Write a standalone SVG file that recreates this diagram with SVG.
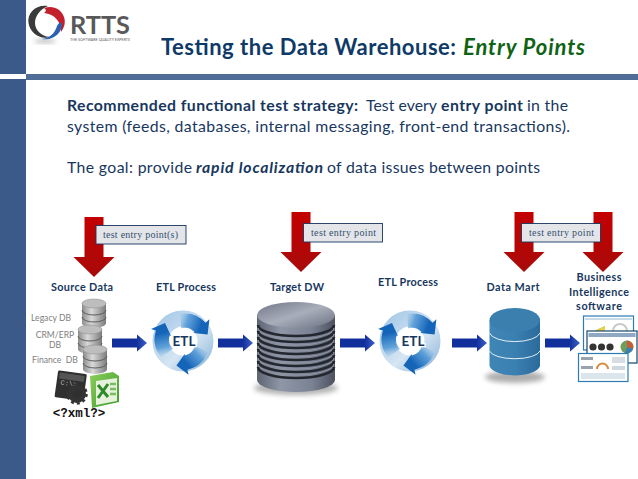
<svg xmlns="http://www.w3.org/2000/svg" width="638" height="479" viewBox="0 0 638 479">
<style>
.t{font-family:Lato,"Liberation Sans",sans-serif}
.title{font-size:22px;font-weight:700;fill:#0f3a68}
.green{fill:#0f6314}
.body{font-size:15.800px;fill:#17375e}
.b{font-weight:700}
.i{font-style:italic}
.lab{font-size:10.800px;font-weight:700;fill:#17375e;text-anchor:middle}
.src{font-size:8.600px;fill:#808080;text-anchor:middle}
.etl{font-size:13.500px;font-weight:700;fill:#17375e;text-anchor:middle;stroke:#fff;stroke-width:2.400px;paint-order:stroke}
.box{fill:#e4e5e9;stroke:#17375e;stroke-width:.9}
.boxt{font-family:"Liberation Serif",serif;font-size:10px;fill:#34506f}
.fin{fill:none;stroke:#23272f;stroke-width:2.600}
.finl{fill:none;stroke:#8d94a3;stroke-width:1.200}
.scr{fill:#fff;stroke:#2b7cb3;stroke-width:1.200}
</style>
<defs>
<linearGradient id="redg" x1="0" y1="0" x2="0" y2="1"><stop offset="0" stop-color="#c40000"/><stop offset="1" stop-color="#a80a0a"/></linearGradient>
<linearGradient id="blueg" x1="0" y1="0" x2="1" y2="0"><stop offset="0" stop-color="#12309c"/><stop offset=".7" stop-color="#12309c"/><stop offset="1" stop-color="#3d5fc8"/></linearGradient>
<linearGradient id="ringg" x1="0" y1="0" x2="1" y2="1"><stop offset="0" stop-color="#a9cbe8"/><stop offset=".6" stop-color="#d5e5f3"/><stop offset="1" stop-color="#9cc0df"/></linearGradient>
<linearGradient id="swg" gradientUnits="userSpaceOnUse" x1="-22" y1="-8" x2="-17" y2="18"><stop offset="0" stop-color="#1464b8"/><stop offset=".55" stop-color="#3f8ed2" stop-opacity=".75"/><stop offset="1" stop-color="#a9cbe8" stop-opacity="0"/></linearGradient>
<linearGradient id="steel" x1="0" y1="0" x2="1" y2="0"><stop offset="0" stop-color="#5d6472"/><stop offset=".3" stop-color="#8f96a6"/><stop offset=".7" stop-color="#7b8293"/><stop offset="1" stop-color="#4c525f"/></linearGradient>
<linearGradient id="steeltop" x1="0" y1="0" x2="1" y2="1"><stop offset="0" stop-color="#6f7686"/><stop offset=".5" stop-color="#a9aebb"/><stop offset="1" stop-color="#6a7080"/></linearGradient>
<linearGradient id="dm" x1="0" y1="0" x2="1" y2="0"><stop offset="0" stop-color="#3f85b5"/><stop offset=".5" stop-color="#3a80b0"/><stop offset="1" stop-color="#2a6b9c"/></linearGradient>
<linearGradient id="silver" x1="0" y1="0" x2="1" y2="0"><stop offset="0" stop-color="#8b8b8b"/><stop offset=".4" stop-color="#d9d9d9"/><stop offset="1" stop-color="#7b7b7b"/></linearGradient>
<linearGradient id="xl" x1="0" y1="0" x2="1" y2="1"><stop offset="0" stop-color="#8ccf5a"/><stop offset="1" stop-color="#3d9a2f"/></linearGradient>
<filter id="blur" x="-30%" y="-60%" width="160%" height="220%"><feGaussianBlur stdDeviation="2.400"/></filter>
<path id="red" d="M-9.500 0H9.500V40H20.500L0 60-20.500 40H-9.500Z" fill="url(#redg)"/>
<path id="blue" d="M0-4.600H25V-8.500L35 0 25 8.500V4.600H0Z" fill="url(#blueg)"/>
<path id="sw" d="M-18-18-32-12-27-10.500A28 28 0 0 0-22 16L-10 8A14 14 0 0 1-13.500-5.500L-12-5Z" fill="url(#swg)"/>
<g id="ring">
<circle r="22.500" fill="none" stroke="url(#ringg)" stroke-width="16"/>
<use href="#sw"/><use href="#sw" transform="rotate(120)"/><use href="#sw" transform="rotate(240)"/>
</g>
<g id="can">
<path d="M0 4V24A12 5 0 0 0 24 24V4Z" fill="url(#silver)"/>
<path d="M0 11A12 5 0 0 0 24 11M0 18A12 5 0 0 0 24 18" fill="none" stroke="#5d5d5d" stroke-width="1"/>
<ellipse cx="12" cy="4.500" rx="12" ry="4.500" fill="#bdbdbd" stroke="#8a8a8a" stroke-width=".5"/>
</g>
</defs>

<rect width="638" height="479" fill="#fff"/>

<g id="frame">
<rect x="0" y="0" width="26" height="74" fill="#3b5a8a"/>
<rect x="0" y="79" width="26" height="400" fill="#3b5a8a"/>
<rect x="26" y="74" width="612" height="6" fill="#4f6d96"/>
</g>

<g id="logo">
<ellipse cx="45" cy="41" rx="11" ry="1.800" fill="#9a9a9a" filter="url(#blur)" opacity=".8"/>
<path d="M48 6C36 4 27 13 28.500 23 30 33 40 40 50 37 41 36 35 30 35 23 35 15 41 9 48 6Z" fill="#3a3a3a"/>
<path d="M44 8C52 5 61 8 64 17 66 23 64 28 61 32 61 22 55 14 44 13 47 11 46 9 44 8Z" fill="#c2202c"/>
<path d="M62 24C62 33 53 41 42 39 50 38 55 33 57 26 59 22 61 22 62 24Z" fill="#2b5fb0"/>
<text class="t" x="70" y="34" font-size="25" font-weight="700" fill="#595959" textLength="60" lengthAdjust="spacingAndGlyphs">RTTS</text>
<text class="t" x="70" y="41" font-size="3.400" fill="#555" textLength="60" lengthAdjust="spacingAndGlyphs">THE SOFTWARE QUALITY EXPERTS</text>
</g>

<g id="title-block">
<text class="t title" x="161" y="54.500" textLength="295" lengthAdjust="spacing">Testing the Data Warehouse:</text>
<text class="t title i green" x="463" y="54.500" textLength="122" lengthAdjust="spacing">Entry Points</text>
</g>

<g id="intro">
<text class="t body b" x="67" y="110.700" textLength="291" lengthAdjust="spacing">Recommended functional test strategy:</text>
<text class="t body" x="366" y="110.700" textLength="71" lengthAdjust="spacing">Test every</text>
<text class="t body b" x="441" y="110.700" textLength="82" lengthAdjust="spacing">entry point</text>
<text class="t body" x="527" y="110.700" textLength="41" lengthAdjust="spacing">in the</text>
<text class="t body" x="67" y="132" textLength="503" lengthAdjust="spacing">system (feeds, databases, internal messaging, front-end transactions).</text>
<text class="t body" x="67" y="173.300" textLength="125" lengthAdjust="spacing">The goal: provide</text>
<text class="t body b i" x="196" y="173.300" textLength="127" lengthAdjust="spacing">rapid localization</text>
<text class="t body" x="327" y="173.300" textLength="213" lengthAdjust="spacing">of data issues between points</text>
</g>

<g id="connectors">
<use href="#blue" x="112" y="343"/>
<use href="#blue" x="218" y="343"/>
<use href="#blue" x="340" y="343"/>
<use href="#blue" x="452" y="343"/>
<use href="#blue" x="545" y="343"/>
</g>

<g id="entry-arrows">
<use href="#red" transform="translate(94 217)"/>
<use href="#red" transform="translate(301 212)"/>
<use href="#red" transform="translate(524 212)"/>
<use href="#red" transform="translate(603 212)"/>
</g>

<g id="label-entry-1">
<rect class="box" x="96" y="225.500" width="90" height="18.500"/>
<text class="boxt" x="103" y="238" textLength="75" lengthAdjust="spacing">test entry point(s)</text>
</g>
<g id="label-entry-2">
<rect class="box" x="303.500" y="223.500" width="79" height="18.500"/>
<text class="boxt" x="311" y="236" textLength="65" lengthAdjust="spacing">test entry point</text>
</g>
<g id="label-entry-3">
<rect class="box" x="521.500" y="223.500" width="79" height="18.500"/>
<text class="boxt" x="529" y="236" textLength="65" lengthAdjust="spacing">test entry point</text>
</g>

<g id="source-data">
<text class="t lab" x="82" y="291" textLength="62" lengthAdjust="spacing">Source Data</text>
<text class="t src" x="51" y="321">Legacy DB</text>
<text class="t src" x="55" y="338">CRM/ERP</text>
<text class="t src" x="55" y="348">DB</text>
<text class="t src" x="55" y="363" xml:space="preserve">Finance  DB</text>
<use href="#can" x="82" y="299"/>
<use href="#can" x="78" y="325"/>
<use href="#can" x="83" y="345"/>
<g transform="rotate(8 70 387)">
<rect x="56" y="372" width="29" height="27" rx="1.500" fill="#2f2f2f"/>
<rect x="58" y="374" width="25" height="6" fill="#555"/>
<text x="60" y="386" font-family="Liberation Mono,monospace" font-size="7" fill="#bbb">C:\&gt;</text>
</g>
<circle cx="77" cy="394" r="6.500" fill="none" stroke="#333" stroke-width="5"/>
<circle cx="77" cy="394" r="9.500" fill="none" stroke="#333" stroke-width="2.500" stroke-dasharray="3 3"/>
<path d="M90 376 113 372 119 376V402L92 408Z" fill="url(#xl)"/>
<path d="M96 381 117 378V401L96 405Z" fill="#e6f2dc"/>
<path d="M98 385 108 397M108 384 98 398" stroke="#2f8a2a" stroke-width="3"/>
<path d="M110 384H116M110 389H116M110 394H116" stroke="#7dbb61" stroke-width="2.500"/>
<text x="79" y="417" font-family="Liberation Mono,monospace" font-size="12.500" font-weight="700" fill="#111" text-anchor="middle">&lt;?xml?&gt;</text>
</g>

<g id="etl-1">
<text class="t lab" x="186" y="291" textLength="60" lengthAdjust="spacing">ETL Process</text>
<use href="#ring" transform="translate(183 341)"/>
<text class="t etl" x="184" y="346">ETL</text>
</g>

<g id="target-dw">
<text class="t lab" x="297" y="291" textLength="54" lengthAdjust="spacing">Target DW</text>
<ellipse cx="296" cy="388" rx="42" ry="7" fill="#555" opacity=".45" filter="url(#blur)"/>
<path d="M257 315V380A39 12 0 0 0 335 380V315Z" fill="url(#steel)"/>
<path class="fin" d="M258 325A38 11 0 0 0 334 325"/><path class="finl" d="M258 328A38 11 0 0 0 334 328"/>
<path class="fin" d="M258 331A38 11 0 0 0 334 331"/><path class="finl" d="M258 334A38 11 0 0 0 334 334"/>
<path class="fin" d="M258 337A38 11 0 0 0 334 337"/><path class="finl" d="M258 340A38 11 0 0 0 334 340"/>
<path class="fin" d="M258 343A38 11 0 0 0 334 343"/><path class="finl" d="M258 346A38 11 0 0 0 334 346"/>
<path class="fin" d="M258 349A38 11 0 0 0 334 349"/><path class="finl" d="M258 352A38 11 0 0 0 334 352"/>
<path class="fin" d="M258 355A38 11 0 0 0 334 355"/><path class="finl" d="M258 358A38 11 0 0 0 334 358"/>
<path class="fin" d="M258 361A38 11 0 0 0 334 361"/><path class="finl" d="M258 364A38 11 0 0 0 334 364"/>
<path class="fin" d="M258 367A38 11 0 0 0 334 367"/>
<ellipse cx="296" cy="315" rx="39" ry="13" fill="url(#steeltop)"/>
</g>

<g id="etl-2">
<text class="t lab" x="408" y="286" textLength="60" lengthAdjust="spacing">ETL Process</text>
<use href="#ring" transform="translate(410 341)"/>
<text class="t etl" x="413" y="346">ETL</text>
</g>

<g id="data-mart">
<text class="t lab" x="513" y="291" textLength="53" lengthAdjust="spacing">Data Mart</text>
<ellipse cx="515" cy="377" rx="30" ry="6" fill="#777" opacity=".6" filter="url(#blur)"/>
<path d="M489.500 320V366A25.500 11 0 0 0 540 366V320Z" fill="url(#dm)"/>
<path d="M489.500 333A25.500 10 0 0 0 540 333M489.500 351A25.500 9 0 0 0 540 351" fill="none" stroke="#e2eef6" stroke-width="1"/>
<ellipse cx="514.800" cy="320" rx="25.300" ry="12" fill="#3a7fae"/>
</g>

<g id="bi-software">
<text class="t lab" x="599" y="281" textLength="45" lengthAdjust="spacing">Business</text>
<text class="t lab" x="599" y="296" textLength="60" lengthAdjust="spacing">Intelligence</text>
<text class="t lab" x="599" y="310" textLength="46" lengthAdjust="spacing">software</text>
<rect class="scr" x="583.500" y="316" width="50" height="34"/>
<rect x="585" y="318" width="47" height="2" fill="#c9dbe8"/>
<path d="M590 343V333L605 326V343Z" fill="#7fb648"/>
<path d="M590 333 605 326V331L590 337Z" fill="#e7d14a"/>
<path d="M613 331A7 7 0 0 1 627 331" fill="none" stroke="#c9c9c9" stroke-width="2"/>
<rect class="scr" x="587" y="331" width="50" height="32" style="stroke:#17476d"/>
<rect x="588.500" y="333" width="47" height="4" fill="#8fa9c4"/>
<circle cx="593" cy="347" r="3.600" fill="#333"/><circle cx="601.500" cy="347" r="3.600" fill="#333"/><circle cx="610" cy="347" r="3.600" fill="#333"/>
<circle cx="627" cy="347" r="6.500" fill="#6f9e58"/>
<path d="M627 347V340.500A6.500 6.500 0 0 1 633 349Z" fill="#c75c3a"/>
<path d="M627 347 633 349A6.500 6.500 0 0 1 625 353Z" fill="#3b7fb5"/>
<rect class="scr" x="578.500" y="353.500" width="49.500" height="28"/>
<rect x="581" y="357" width="12" height="3" fill="#9aa3ad"/>
<rect x="581" y="366" width="12" height="3" fill="#9aa3ad"/>
<path d="M597 369A5.500 5.500 0 0 1 608 369" fill="none" stroke="#d88a3c" stroke-width="2"/>
<rect x="612" y="357" width="13" height="6" fill="#d7dde2"/>
<rect x="612" y="366" width="13" height="4" fill="#cfd8de"/>
<rect x="581" y="373" width="44" height="6" fill="#dbe5ec"/>
</g>
</svg>
